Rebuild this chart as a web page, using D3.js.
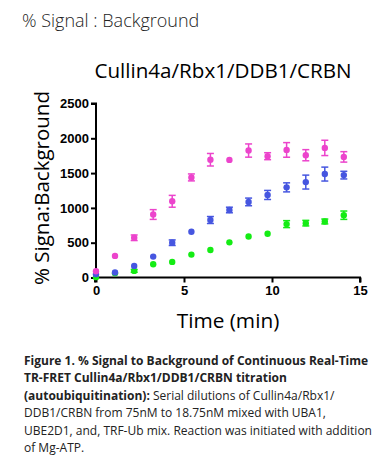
<!DOCTYPE html>
<html>
<head>
<meta charset="utf-8">
<script src="https://cdn.jsdelivr.net/npm/d3@7"></script>
<style>
  body { margin: 0; background: #fff; }
  svg { display: block; }
</style>
</head>
<body>
<div id="chart"></div>
<script>
// time points (min)
var times = [0, 1.08, 2.17, 3.25, 4.33, 5.42, 6.5, 7.58, 8.67, 9.75, 10.83, 11.92, 13, 14.08];

// % signal : background, one array per concentration
var pinkVals  = [90, 310, 571, 905, 1095, 1438, 1692, 1690, 1824, 1743, 1833, 1757, 1862, 1733];
var pinkErr   = [0, 0, 40, 70, 85, 50, 90, 0, 95, 50, 105, 80, 110, 75];
var blueVals  = [48, 71, 167, 300, 500, 657, 826, 970, 1086, 1186, 1295, 1371, 1486, 1471];
var blueErr   = [0, 0, 0, 0, 40, 0, 50, 40, 55, 65, 65, 100, 100, 55];
var greenVals = [5, 60, 95, 190, 224, 329, 395, 505, 590, 629, 767, 781, 805, 895];
var greenErr  = [0, 0, 20, 0, 0, 0, 0, 0, 0, 0, 50, 40, 35, 60];

var xTicks = [0, 5, 10, 15];
var yTicks = [0, 500, 1000, 1500, 2000, 2500];

var series = [
  {vals: greenVals, err: greenErr, color: "#14ec14"},
  {vals: blueVals, err: blueErr, color: "#4656e0"},
  {vals: pinkVals, err: pinkErr, color: "#ec44cc"}
];

var caption = [
  {t: "Figure 1. % Signal to Background of Continuous Real-Time", b: true},
  {t: "TR-FRET Cullin4a/Rbx1/DDB1/CRBN titration", b: true},
  {t: "(autoubiquitination):", b: true, rest: " Serial dilutions of Cullin4a/Rbx1/"},
  {t: "DDB1/CRBN from 75nM to 18.75nM mixed with UBA1,"},
  {t: "UBE2D1, and, TRF-Ub mix. Reaction was initiated with addition"},
  {t: "of Mg-ATP."}
];

var W = 386, H = 475;
var svg = d3.select("#chart").append("svg").attr("width", W).attr("height", H);

var x = d3.scaleLinear().domain([0, 15]).range([96, 360]);
var y = d3.scaleLinear().domain([0, 2500]).range([277.5, 103.5]);

svg.append("text").attr("x", 22).attr("y", 27)
  .style("font-family", "'Open Sans'").style("font-size", "18px").style("font-weight", 300)
  .attr("fill", "#222").text("% Signal : Background");

svg.append("text").attr("x", 223).attr("y", 78).attr("text-anchor", "middle")
  .style("font-family", "'Open Sans'").style("font-size", "20.6px")
  .attr("fill", "#000").text("Cullin4a/Rbx1/DDB1/CRBN");

// axes
var xAxis = svg.append("g").attr("transform", "translate(0," + y(0) + ")")
  .call(d3.axisBottom(x).tickValues(xTicks).tickFormat(d3.format("d")).tickSize(5).tickPadding(3));
var yAxis = svg.append("g").attr("transform", "translate(" + x(0) + ",0)")
  .call(d3.axisLeft(y).tickValues(yTicks).tickFormat(d3.format("d")).tickSize(5).tickPadding(2));

[xAxis, yAxis].forEach(function(a){
  a.select(".domain").attr("stroke", "#000").attr("stroke-width", 2);
  a.selectAll(".tick line").attr("stroke", "#000").attr("stroke-width", 2);
  a.selectAll("text").style("font-family", "Arial, 'Liberation Sans'")
    .style("font-size", "13px").style("font-weight", "bold").attr("fill", "#000");
});
// keep axis corner squared
xAxis.select(".domain").attr("d", "M" + (x(0) - 1) + ",5V0H" + x(15) + "V5");
yAxis.select(".domain").attr("d", "M-5," + y(2500) + "H0V" + (y(0) + 1));

svg.append("text").attr("transform", "translate(49," + 188 + ") rotate(-90)")
  .attr("text-anchor", "middle")
  .style("font-family", "'Open Sans'").style("font-size", "20.5px")
  .attr("fill", "#000").text("% Signa:Background");

svg.append("text").attr("x", 228).attr("y", 328).attr("text-anchor", "middle")
  .style("font-family", "'Open Sans'").style("font-size", "20.8px")
  .attr("fill", "#000").text("Time (min)");

// data
series.forEach(function(s){
  var g = svg.append("g");
  var pts = s.vals.map(function(v, i){ return {t: times[i], v: v, e: s.err[i]}; });
  var eb = g.selectAll(".eb").data(pts.filter(function(d){ return d.e > 0; })).enter().append("g");
  eb.append("line")
    .attr("x1", function(d){ return x(d.t); }).attr("x2", function(d){ return x(d.t); })
    .attr("y1", function(d){ return y(d.v - d.e); }).attr("y2", function(d){ return y(d.v + d.e); })
    .attr("stroke", s.color).attr("stroke-width", 1.5);
  [1, -1].forEach(function(sg){
    eb.append("line")
      .attr("x1", function(d){ return x(d.t) - 3.5; }).attr("x2", function(d){ return x(d.t) + 3.5; })
      .attr("y1", function(d){ return y(d.v + sg * d.e); }).attr("y2", function(d){ return y(d.v + sg * d.e); })
      .attr("stroke", s.color).attr("stroke-width", 1.5);
  });
  g.selectAll("circle").data(pts).enter().append("circle")
    .attr("cx", function(d){ return x(d.t); })
    .attr("cy", function(d){ return y(d.v); })
    .attr("r", 3.2).attr("fill", s.color);
});

// caption
var cap = svg.append("g").style("font-family", "'Open Sans'").style("font-size", "12px").attr("fill", "#222");
caption.forEach(function(c, i){
  var t = cap.append("text").attr("x", 24).attr("y", 365 + i * 17.4);
  t.append("tspan").style("font-weight", c.b ? "bold" : "normal").text(c.t);
  if (c.rest) t.append("tspan").text(c.rest);
});
</script>
</body>
</html>
